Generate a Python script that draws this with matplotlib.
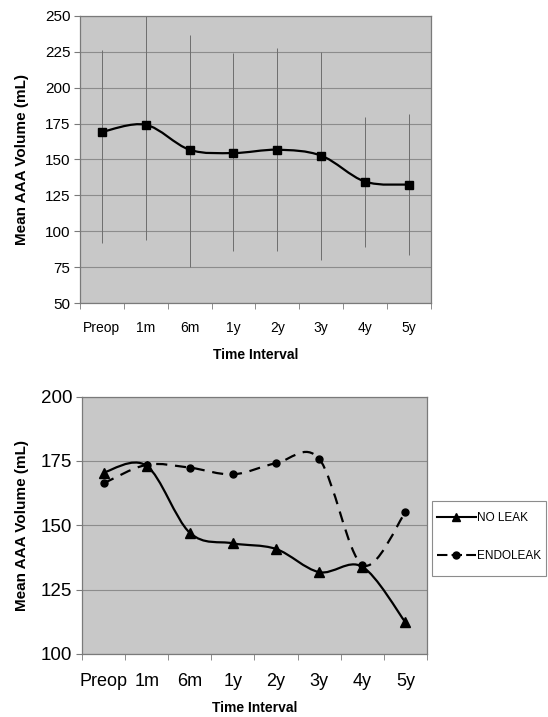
import numpy as np
import matplotlib
matplotlib.use('Agg')
import matplotlib.pyplot as plt
from matplotlib.path import Path
from matplotlib.patches import PathPatch, Rectangle
from matplotlib.lines import Line2D

plt.rcParams['font.family'] = ['Liberation Sans', 'DejaVu Sans']

#Data
intervals = ['Preop', '1m', '6m', '1y', '2y', '3y', '4y', '5y']
mean_all = [169.2, 174.2, 156.8, 154.5, 156.8, 152.7, 134.6, 132.5]
err_top = [226.3, 252.0, 237.0, 224.0, 227.5, 225.0, 179.8, 181.5]
err_bottom = [91.6, 94.0, 75.3, 86.4, 86.4, 80.0, 88.8, 83.4]
no_leak = [170.5, 173.1, 147.1, 143.0, 140.8, 131.8, 133.9, 112.3]
endoleak = [166.3, 173.5, 172.4, 169.8, 174.1, 175.8, 134.6, 155.1]

bg = '#c8c8c8'
gridc = '#8c8c8c'
spinec = '#7a7a7a'


def smooth_path(x, y):
    #Excel style smoothed line: cubic bezier through the points
    pts = np.column_stack([x, y]).astype(float)
    n = len(pts)
    verts = [pts[0]]
    codes = [Path.MOVETO]
    for i in range(n - 1):
        p0 = pts[i - 1] if i > 0 else pts[i]
        p1 = pts[i]
        p2 = pts[i + 1]
        p3 = pts[i + 2] if i + 2 < n else pts[i + 1]
        c1 = p1 + (p2 - p0) / 6.0
        c2 = p2 - (p3 - p1) / 6.0
        verts += [c1, c2, p2]
        codes += [Path.CURVE4] * 3
    return Path(verts, codes)


def style_axes(ax, ymin, ymax, step, ytick_fs, xtick_fs, xpad, xlabpad, ylab_x):
    ax.set_facecolor(bg)
    ax.set_xlim(-0.5, len(intervals) - 0.5)
    ax.set_ylim(ymin, ymax)
    ax.set_yticks(np.arange(ymin, ymax + 1, step))
    ax.set_xticks(range(len(intervals)))
    ax.set_xticklabels(intervals)
    ax.set_xticks(np.arange(-0.5, len(intervals), 1.0), minor=True)
    ax.tick_params(axis='x', which='major', length=0, labelsize=xtick_fs, pad=xpad)
    ax.tick_params(axis='x', which='minor', length=4, color=spinec, direction='out')
    ax.tick_params(axis='y', length=4, color=spinec, labelsize=ytick_fs, pad=3)
    ax.grid(axis='y', color=gridc, linewidth=0.8)
    ax.set_axisbelow(True)
    for s in ax.spines.values():
        s.set_color(spinec)
        s.set_linewidth(0.9)
    ax.set_xlabel('Time Interval', fontsize=10, fontweight='bold', labelpad=xlabpad)
    ax.set_ylabel('Mean AAA Volume (mL)', fontsize=11, fontweight='bold')
    ax.yaxis.set_label_coords(ylab_x, 0.5)


fig = plt.figure(figsize=(5.48, 7.17), dpi=100)
x = np.arange(len(intervals))

#Top chart: all patients with error bars
ax1 = fig.add_axes([0.146, 0.5774, 0.640, 0.4003])
style_axes(ax1, 50, 250, 25, 11, 10, 13, 9, -0.145)
ax1.vlines(x, err_bottom, err_top, color='#6e6e6e', linewidth=0.7, zorder=2)
ax1.add_patch(PathPatch(smooth_path(x, mean_all), fill=False, edgecolor='black', linewidth=1.6, zorder=3))
ax1.plot(x, mean_all, 's', color='black', markersize=5.2, linestyle='none', zorder=4)

#Bottom chart: no leak vs endoleak
ax2 = fig.add_axes([0.1496, 0.0879, 0.6296, 0.3589])
style_axes(ax2, 100, 200, 25, 13.5, 13, 14, 7.5, -0.155)
ax2.add_patch(PathPatch(smooth_path(x, no_leak), fill=False, edgecolor='black', linewidth=1.6, zorder=3))
ax2.add_patch(PathPatch(smooth_path(x, endoleak), fill=False, edgecolor='black', linewidth=1.6,
                        linestyle=(0, (5, 3.5)), zorder=3))
ax2.plot(x, no_leak, '^', color='black', markersize=7, linestyle='none', zorder=4)
ax2.plot(x, endoleak, 'o', color='black', markersize=5, linestyle='none', zorder=4)

#Legend, framed separately so the box matches the original
handles = [Line2D([], [], color='black', marker='^', markersize=6, linewidth=1.5),
           Line2D([], [], color='black', marker='o', markersize=5, linewidth=1.5, linestyle=(0, (5, 2)))]
fig.legend(handles, ['NO LEAK', 'ENDOLEAK'], loc='upper left', bbox_to_anchor=(0.797, 0.2855),
           fontsize=8.5, frameon=False, handlelength=3.3, handletextpad=0.1,
           labelspacing=2.15, borderpad=0, borderaxespad=0)
fig.add_artist(Rectangle((432 / 548, 1 - 576 / 717), 114 / 548, 75 / 717, transform=fig.transFigure,
                         fill=False, edgecolor='#8c8c8c', linewidth=0.8))

plt.savefig('out.png', dpi=100)
